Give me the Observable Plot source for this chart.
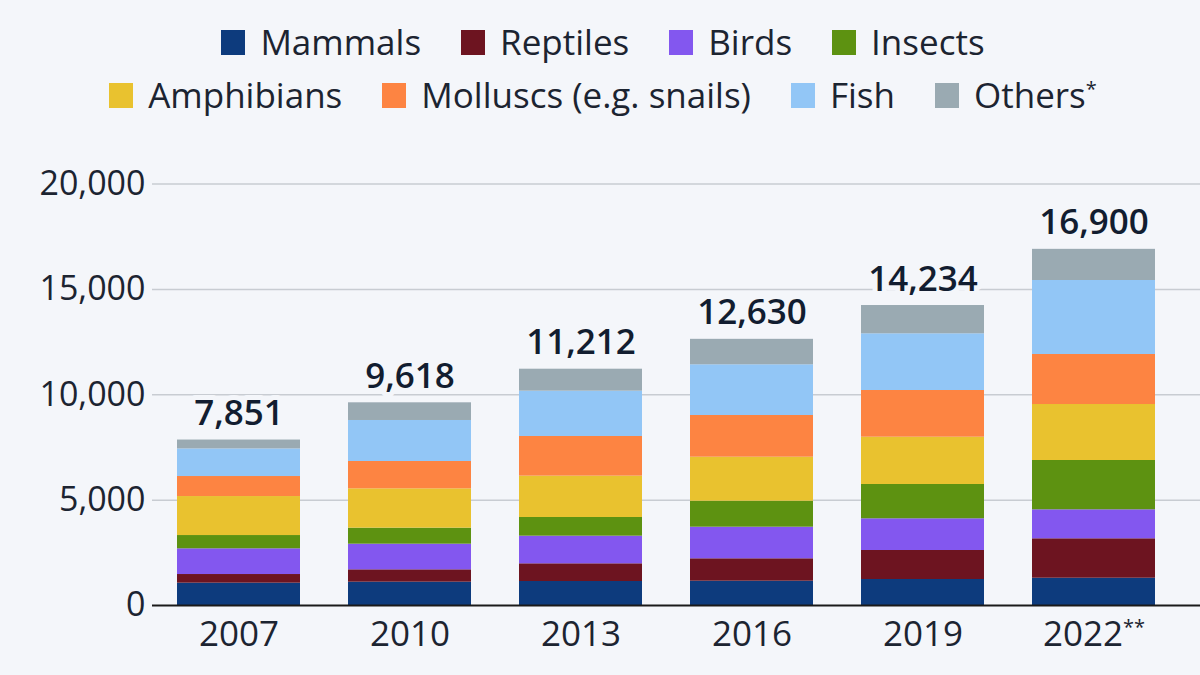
<!DOCTYPE html>
<html>
<head>
<meta charset="utf-8">
<script src="https://cdn.jsdelivr.net/npm/d3@7"></script>
<script src="https://cdn.jsdelivr.net/npm/@observablehq/plot@0.6"></script>
<style>
  html, body { margin: 0; padding: 0; background: #f4f6fa; }
  body { width: 1200px; height: 675px; overflow: hidden; font-family: "Open Sans", sans-serif; color: #1c2431; }
  #legend { height: 125px; position: relative; }
  .row { position: absolute; left: 0; width: 1200px; display: flex; justify-content: center; align-items: center; padding-left: 6px; box-sizing: border-box; font-size: 35px; line-height: 40px; }
  .item { display: flex; align-items: center; margin: 0 20px; white-space: nowrap; }
  .sw { width: 24px; height: 25px; margin-right: 15px; }
  sup { font-size: 20px; vertical-align: 12px; line-height: 0; }
  #chart svg { display: block; }
</style>
</head>
<body>
<div id="legend"></div>
<div id="chart"></div>
<script>
const years = ["2007", "2010", "2013", "2016", "2019", "2022"];
const yearLabels = ["2007", "2010", "2013", "2016", "2019", "2022**"];
const categories = ["Mammals", "Reptiles", "Birds", "Insects", "Amphibians", "Molluscs (e.g. snails)", "Fish", "Others*"];
const colors = ["#0d3b7d", "#6d1420", "#8357ef", "#5d9211", "#e9c22f", "#fd8442", "#92c6f6", "#9aaab2"];
const mammals    = [1060, 1107, 1139, 1153, 1234, 1295];
const reptiles   = [410, 585, 839, 1063, 1376, 1870];
const birds      = [1220, 1218, 1312, 1500, 1504, 1376];
const insects    = [630, 760, 886, 1233, 1628, 2339];
const amphibians = [1850, 1866, 1963, 2088, 2244, 2657];
const molluscs   = [950, 1297, 1880, 1979, 2216, 2373];
const fish       = [1310, 1946, 2151, 2405, 2690, 3511];
const others     = [421, 839, 1042, 1209, 1342, 1479];
const totals     = [7851, 9618, 11212, 12630, 14234, 16900];
const yTicks = [0, 5000, 10000, 15000, 20000];
const legendRows = [[0, 1, 2, 3], [4, 5, 6, 7]];

const series = [mammals, reptiles, birds, insects, amphibians, molluscs, fish, others];
const data = [];
categories.forEach((c, i) => years.forEach((y, j) => data.push({year: y, category: c, value: series[i][j]})));
const totalData = years.map((y, j) => ({year: y, total: totals[j]}));

// Legend
const legend = document.getElementById("legend");
legendRows.forEach((row, r) => {
  const div = document.createElement("div");
  div.className = "row";
  div.style.top = (r === 0 ? 22 : 75) + "px";
  row.forEach(i => {
    const item = document.createElement("div");
    item.className = "item";
    const sw = document.createElement("div");
    sw.className = "sw";
    sw.style.background = colors[i];
    item.appendChild(sw);
    const label = document.createElement("span");
    const name = categories[i];
    if (name.endsWith("*")) {
      label.textContent = name.replace(/\*+$/, "");
      const s = document.createElement("sup");
      s.textContent = name.match(/\*+$/)[0];
      label.appendChild(s);
    } else label.textContent = name;
    item.appendChild(label);
    div.appendChild(item);
  });
  legend.appendChild(div);
});

const fmt = d3.format(",");
const plot = Plot.plot({
  width: 1200,
  height: 550,
  marginLeft: 152,
  marginRight: 0,
  marginTop: 58.5,
  marginBottom: 70,
  style: {background: "#f4f6fa", fontFamily: "Open Sans, sans-serif", fontSize: "34px", color: "#1c2431"},
  x: {domain: years, range: [153, 1180], paddingInner: 0.28, paddingOuter: 0.14, label: null},
  y: {domain: [0, 20000], label: null},
  color: {domain: categories, range: colors},
  marks: [
    Plot.ruleY(yTicks.filter(d => d > 0), {stroke: "#c8ccd2", strokeWidth: 1.5}),
    Plot.text(totalData, {x: "year", y: "total", text: d => fmt(d.total), dy: -15, lineAnchor: "bottom",
      fontSize: 35, fontWeight: 600, fill: "#121d30", stroke: "#f4f6fa", strokeWidth: 10, paintOrder: "stroke"}),
    Plot.barY(data, {x: "year", y: "value", fill: "category", z: "category"}),
    Plot.ruleY([0], {stroke: "#1a1a1a", strokeWidth: 2}),
    Plot.axisY({ticks: yTicks, tickFormat: fmt, tickSize: 0, tickPadding: 7, fontSize: 34, label: null}),
    Plot.axisX({tickSize: 0, tickPadding: 16, fontSize: 35, tickFormat: d => yearLabels[years.indexOf(d)], label: null})
  ]
});
document.getElementById("chart").appendChild(plot);

// superscript asterisks in x tick labels
plot.querySelectorAll("text").forEach(t => {
  const m = t.textContent.match(/^(\d{4})(\*+)$/);
  if (m && !t.querySelector("tspan")) {
    t.textContent = m[1];
    const ts = document.createElementNS("http://www.w3.org/2000/svg", "tspan");
    ts.setAttribute("font-size", "20");
    ts.setAttribute("dy", "-12");
    ts.textContent = m[2];
    t.appendChild(ts);
  }
});
</script>
</body>
</html>
